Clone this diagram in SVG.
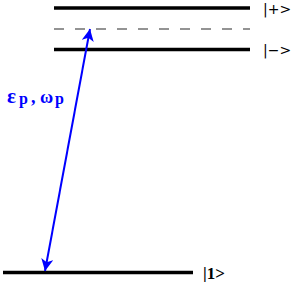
<svg xmlns="http://www.w3.org/2000/svg" width="291" height="282" viewBox="0 0 291 282">
<style>
.lvl{stroke:#000;stroke-width:3.5}
.ket{font-family:"DejaVu Sans",sans-serif;font-size:14px;fill:#000}
.ket1{font-family:"Liberation Serif",serif;font-size:17px;fill:#000}
.lab{font-family:"Liberation Serif",serif;fill:#0000ff;font-weight:bold}
</style>
<defs>
<marker id="ah" viewBox="0 0 10 10" refX="10" refY="5" markerWidth="12" markerHeight="12" markerUnits="userSpaceOnUse" orient="auto-start-reverse">
<path d="M0,0 L10,5 L0,10 L2.5,5 z" fill="#0000ff"/>
</marker>
</defs>
<g id="level-plus"><line class="lvl" x1="54" y1="8" x2="250" y2="8"/><text class="ket" x="263" y="14">|+&gt;</text></g>
<g id="virtual"><line x1="54" y1="29" x2="250" y2="29" stroke="#707070" stroke-width="1.3" stroke-dasharray="10,11"/></g>
<g id="level-minus"><line class="lvl" x1="54" y1="49.5" x2="250" y2="49.5"/><text class="ket" x="263" y="55">|−&gt;</text></g>
<g id="level-1"><line class="lvl" x1="3" y1="272.5" x2="193" y2="272.5"/><text class="ket1" x="203" y="279" font-weight="bold">|1&gt;</text></g>
<g id="connectors">
<line x1="45" y1="271" x2="90" y2="29" stroke="#0000ff" stroke-width="2" marker-start="url(#ah)" marker-end="url(#ah)"/>
</g>
<g id="label"><text class="lab" x="7" y="103"><tspan font-size="21">ε</tspan><tspan font-size="16" dx="3" dy="1">p</tspan><tspan font-size="18" dx="3" dy="-1">, ω</tspan><tspan font-size="16" dx="2" dy="1">p</tspan></text></g>
</svg>
